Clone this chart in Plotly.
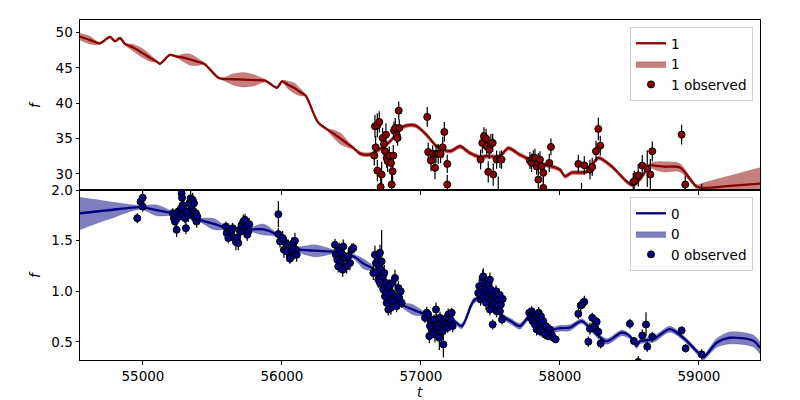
import plotly.graph_objects as go

# ---------------- model curves (knots) ----------------
t1_model = [54547, 54620, 54691, 54763, 54799, 54835, 54871, 54930, 54990, 55050, 55100, 55122,
            55194, 55245, 55290, 55340, 55390, 55440, 55540, 55576, 55650, 55720, 55800, 55880,
            55964, 56000, 56045, 56090, 56130, 56170, 56259, 56324, 56370, 56420, 56465, 56511,
            56561, 56633, 56777, 56873, 56957, 57041, 57113, 57209, 57281, 57352,
            57420, 57473, 57568, 57628, 57712, 57832, 57930, 58000, 58036, 58084, 58192, 58276,
            58372, 58516, 58575, 58647, 58700, 58750, 58863, 58983, 59040, 59200, 59439]
f1_model = [49.45, 48.95, 48.5, 49.4, 48.8, 49.25, 48.4, 47.9, 47.2, 46.45, 45.9, 45.6,
            46.85, 46.6, 46.45, 46.2, 45.9, 45.6, 43.65, 43.45, 43.4, 43.35, 43.28, 43.2,
            42.2, 43.1, 42.6, 42.15, 41.6, 41.1, 37.3, 36.3, 35.7, 35.0, 34.35, 33.7,
            32.9, 32.75, 34.6, 36.7, 36.85, 35.5, 33.9, 33.2, 33.9, 32.95,
            32.4, 32.5, 32.5, 33.65, 32.7, 31.6, 31.1, 30.6, 29.65, 30.15, 30.3, 32.25,
            31.05, 28.45, 29.2, 31.2, 31.1, 31.0, 30.9, 28.2, 28.0, 28.25, 28.6]
s1_model = [0.5, 0.55, 0.15, 0.15, 0.15, 0.15, 0.15, 0.5, 0.65, 0.5, 0.15, 0.15,
            0.15, 0.15, 0.55, 0.8, 0.55, 0.15, 0.15, 0.2, 0.8, 1.05, 0.8, 0.2,
            0.15, 0.15, 0.55, 0.75, 0.55, 0.15, 0.15, 0.15, 0.55, 0.8, 0.55, 0.2,
            0.3, 0.3, 0.3, 0.3, 0.3, 0.3, 0.3, 0.3, 0.3, 0.3,
            0.3, 0.3, 0.3, 0.3, 0.3, 0.3, 0.3, 0.3, 0.3, 0.3, 0.3, 0.3,
            0.3, 0.3, 0.3, 0.35, 0.65, 0.75, 0.6, 0.3, 0.8, 1.4, 2.3]

t0_model = [54547, 54750, 54985, 55100, 55220, 55320, 55410, 55510, 55600, 55700, 55780, 55870,
            55960, 56050, 56110, 56240, 56380, 56450, 56520, 56590, 56670, 56760, 56860, 56940,
            57020, 57100, 57232, 57293, 57376, 57424, 57500, 57592, 57650, 57712, 57784, 57860,
            57928, 58000, 58072, 58156, 58228, 58336, 58444, 58503, 58552, 58575, 58671, 58791,
            58887, 59007, 59031, 59127, 59223, 59391, 59439]
f0_model = [1.77, 1.80, 1.83, 1.80, 1.77, 1.74, 1.705, 1.665, 1.625, 1.60, 1.61, 1.61,
            1.56, 1.46, 1.415, 1.40, 1.39, 1.37, 1.34, 1.27, 1.21, 1.03, 0.87, 0.82,
            0.775, 0.71, 0.71, 0.655, 0.90, 0.935, 0.86, 0.75, 0.70, 0.655, 0.75, 0.68,
            0.62, 0.635, 0.64, 0.705, 0.62, 0.505, 0.59, 0.555, 0.46, 0.505, 0.525, 0.625,
            0.54, 0.375, 0.345, 0.49, 0.54, 0.51, 0.44]
s0_model = [0.16, 0.09, 0.02, 0.055, 0.02, 0.02, 0.02, 0.055, 0.02, 0.02, 0.025, 0.055,
            0.02, 0.02, 0.025, 0.06, 0.02, 0.02, 0.025, 0.05, 0.02, 0.02, 0.025, 0.05,
            0.025, 0.02, 0.02, 0.025, 0.03, 0.025, 0.02, 0.025, 0.03, 0.03, 0.025, 0.02,
            0.025, 0.03, 0.03, 0.025, 0.025, 0.03, 0.03, 0.025, 0.025, 0.025, 0.03, 0.03,
            0.025, 0.025, 0.025, 0.045, 0.06, 0.06, 0.06]

# ---------------- observations (t, f, error) ----------------
obs1 = [
    (56669, 36.73, 1.6), (56686, 36.87, 1.7), (56700, 37.35, 1.5), (56674, 33.75, 1.6), (56664, 32.58, 1.4),
    (56686, 30.45, 1.5), (56717, 29.89, 1.8), (56710, 28.14, 1.3), (56724, 35.08, 1.4), (56734, 34.23, 1.3),
    (56741, 33.19, 1.5), (56748, 35.55, 1.6), (56753, 32.25, 1.4), (56760, 31.78, 1.5), (56772, 32.58, 1.3),
    (56784, 31.54, 1.4), (56789, 28.47, 1.6), (56796, 30.35, 1.4), (56801, 32.58, 1.5), (56806, 36.12, 1.3),
    (56815, 36.50, 1.4), (56825, 35.55, 1.2), (56832, 35.08, 1.1), (56840, 38.95, 1.3), (56844, 36.50, 1.2),
    (57045, 38.06, 1.4), (57052, 33.10, 1.3), (57072, 31.87, 1.5), (57084, 32.82, 1.2), (57101, 30.84, 1.6),
    (57108, 32.82, 1.3), (57124, 32.82, 1.4), (57141, 32.82, 1.3), (57156, 33.75, 1.5), (57168, 35.93, 1.4),
    (57189, 31.40, 1.3), (57189, 28.47, 1.4),
    (57429, 32.01, 1.4), (57441, 34.38, 1.5), (57453, 35.31, 1.3), (57468, 34.99, 1.4), (57473, 33.89, 1.2),
    (57484, 30.27, 1.5), (57491, 33.43, 1.3), (57503, 34.23, 1.4), (57516, 34.38, 1.3), (57520, 29.89, 1.6),
    (57544, 32.01, 1.3), (57556, 27.20, 2.4), (57568, 32.01, 1.2), (57580, 32.01, 1.3),
    (57784, 31.87, 1.2), (57796, 31.54, 1.3), (57808, 32.25, 1.1), (57820, 32.25, 1.3), (57832, 31.06, 1.2),
    (57844, 31.54, 1.4), (57856, 32.01, 1.2), (57868, 31.06, 1.3), (57880, 30.13, 1.4), (57844, 29.18, 1.3),
    (57880, 28.00, 1.5), (57923, 31.54, 1.3), (57935, 33.81, 1.2),
    (58132, 31.40, 1.3), (58155, 26.90, 1.8), (58175, 31.20, 1.3), (58216, 30.59, 1.4), (58232, 30.98, 1.3),
    (58259, 33.19, 1.5), (58276, 36.36, 1.6), (58290, 33.99, 1.4),
    (58527, 28.80, 1.3), (58534, 28.94, 1.5), (58563, 29.79, 1.6), (58592, 31.16, 1.5), (58628, 30.74, 2.6),
    (58650, 29.89, 2.2), (58664, 33.19, 1.4), (58875, 35.55, 1.4), (58901, 28.47, 1.3), (59020, 26.80, 1.8),
]

obs0 = [
    (54959, 1.721, 0.05), (54983, 1.885, 0.06), (54998, 1.924, 0.07), (54998, 1.836, 0.05),
    (55214, 1.770, 0.05), (55223, 1.721, 0.06), (55230, 1.688, 0.05), (55242, 1.606, 0.07), (55254, 1.787, 0.06),
    (55261, 1.737, 0.05), (55271, 1.803, 0.06), (55278, 1.967, 0.07), (55281, 1.924, 0.06), (55286, 1.852, 0.05),
    (55290, 1.754, 0.06), (55302, 1.721, 0.05), (55309, 1.623, 0.06), (55326, 1.754, 0.07), (55333, 1.869, 0.06),
    (55343, 1.918, 0.08), (55350, 1.836, 0.06), (55358, 1.902, 0.07), (55362, 1.787, 0.06), (55367, 1.869, 0.05),
    (55374, 1.721, 0.06), (55381, 1.770, 0.05), (55386, 1.688, 0.06), (55391, 1.737, 0.05), (55278, 1.820, 0.06),
    (55314, 1.787, 0.05),
    (55597, 1.639, 0.05), (55602, 1.574, 0.06), (55614, 1.525, 0.05), (55631, 1.590, 0.06), (55645, 1.623, 0.05),
    (55657, 1.525, 0.07), (55669, 1.485, 0.08), (55678, 1.531, 0.06), (55693, 1.606, 0.05), (55710, 1.656, 0.06),
    (55722, 1.688, 0.07), (55734, 1.705, 0.06), (55741, 1.639, 0.05), (55750, 1.557, 0.06), (55758, 1.590, 0.05),
    (55765, 1.662, 0.06), (55703, 1.590, 0.05), (55686, 1.475, 0.07),
    (55974, 1.761, 0.13), (55974, 1.564, 0.06), (55986, 1.491, 0.06), (56005, 1.525, 0.07), (56014, 1.409, 0.08),
    (56029, 1.475, 0.06), (56045, 1.442, 0.07), (56057, 1.377, 0.06), (56070, 1.459, 0.07), (56081, 1.475, 0.06),
    (56086, 1.360, 0.05), (56093, 1.498, 0.08), (56101, 1.409, 0.06), (56106, 1.360, 0.07), (56034, 1.393, 0.06),
    (56057, 1.321, 0.05), (56077, 1.426, 0.06),
    (56381, 1.459, 0.06), (56388, 1.360, 0.07), (56398, 1.311, 0.06), (56412, 1.409, 0.07), (56422, 1.278, 0.08),
    (56429, 1.377, 0.06), (56441, 1.442, 0.07), (56453, 1.328, 0.06), (56465, 1.245, 0.07), (56477, 1.344, 0.06),
    (56489, 1.278, 0.07), (56501, 1.409, 0.06), (56513, 1.426, 0.05), (56405, 1.245, 0.06), (56437, 1.213, 0.07),
    (56657, 1.180, 0.07), (56669, 1.360, 0.09), (56676, 1.278, 0.08), (56681, 1.180, 0.07), (56688, 1.328, 0.06),
    (56693, 1.114, 0.08), (56700, 1.245, 0.07), (56705, 1.082, 0.06), (56705, 1.380, 0.08), (56712, 1.213, 0.07),
    (56717, 1.294, 0.31), (56724, 1.147, 0.07), (56729, 1.016, 0.06), (56736, 1.180, 0.08), (56741, 0.950, 0.06),
    (56748, 1.082, 0.07), (56753, 0.885, 0.06), (56757, 0.983, 0.07), (56765, 0.819, 0.06), (56772, 1.049, 0.07),
    (56777, 0.917, 0.06), (56784, 0.836, 0.07), (56789, 0.983, 0.06), (56796, 1.082, 0.07), (56801, 0.901, 0.06),
    (56813, 1.131, 0.08), (56820, 0.950, 0.07), (56825, 0.852, 0.06), (56837, 1.032, 0.07), (56844, 0.934, 0.06),
    (56854, 0.999, 0.06), (56861, 0.885, 0.05),
    (57029, 0.737, 0.05), (57041, 0.787, 0.06), (57052, 0.770, 0.05), (57060, 0.556, 0.07), (57070, 0.688, 0.06),
    (57077, 0.622, 0.07), (57089, 0.671, 0.06), (57101, 0.573, 0.08), (57108, 0.819, 0.07), (57113, 0.720, 0.06),
    (57124, 0.639, 0.07), (57132, 0.540, 0.12), (57137, 0.737, 0.06), (57149, 0.671, 0.07), (57156, 0.605, 0.06),
    (57161, 0.474, 0.13), (57168, 0.704, 0.06), (57173, 0.655, 0.07), (57185, 0.737, 0.06), (57192, 0.639, 0.05),
    (57196, 0.770, 0.06), (57204, 0.688, 0.07), (57214, 0.720, 0.06), (57221, 0.787, 0.05), (57228, 0.655, 0.06),
    (57065, 0.655, 0.06), (57094, 0.720, 0.05),
    (57412, 0.983, 0.06), (57419, 1.049, 0.07), (57429, 0.917, 0.06), (57437, 1.016, 0.07), (57444, 1.131, 0.08),
    (57448, 0.950, 0.06), (57453, 1.082, 0.07), (57460, 0.999, 0.06), (57468, 0.885, 0.07), (57473, 1.032, 0.06),
    (57480, 0.950, 0.07), (57487, 1.065, 0.06), (57491, 0.983, 0.07), (57496, 0.819, 0.06), (57503, 1.016, 0.07),
    (57508, 0.917, 0.06), (57516, 0.671, 0.05), (57520, 0.868, 0.07), (57525, 0.967, 0.06), (57532, 0.901, 0.07),
    (57540, 0.999, 0.06), (57544, 0.802, 0.06), (57552, 0.852, 0.07), (57556, 0.917, 0.06), (57563, 0.967, 0.06),
    (57568, 0.802, 0.06), (57575, 0.868, 0.06), (57583, 0.720, 0.05), (57588, 0.924, 0.06), (57496, 1.114, 0.07),
    (57448, 1.147, 0.08),
    (57779, 0.787, 0.05), (57789, 0.737, 0.06), (57796, 0.802, 0.05), (57803, 0.704, 0.06), (57813, 0.770, 0.05),
    (57820, 0.671, 0.06), (57827, 0.753, 0.05), (57832, 0.622, 0.06), (57839, 0.720, 0.05), (57847, 0.787, 0.06),
    (57856, 0.688, 0.05), (57863, 0.753, 0.06), (57870, 0.655, 0.05), (57880, 0.704, 0.06), (57887, 0.622, 0.05),
    (57899, 0.655, 0.05), (57909, 0.589, 0.05), (57916, 0.556, 0.04), (57928, 0.622, 0.05), (57940, 0.573, 0.04),
    (57952, 0.540, 0.04), (57969, 0.524, 0.03), (57856, 0.605, 0.05), (57892, 0.573, 0.05),
    (58132, 0.776, 0.05), (58149, 0.858, 0.06), (58163, 0.878, 0.05), (58175, 0.895, 0.06), (58204, 0.501, 0.05),
    (58216, 0.629, 0.06), (58232, 0.737, 0.05), (58247, 0.655, 0.06), (58264, 0.698, 0.05), (58276, 0.599, 0.06),
    (58293, 0.484, 0.05),
    (58503, 0.678, 0.05), (58532, 0.507, 0.04), (58563, 0.300, 0.06), (58592, 0.563, 0.06), (58619, 0.671, 0.12),
    (58628, 0.452, 0.05), (58664, 0.550, 0.05), (58875, 0.612, 0.04), (58904, 0.435, 0.04), (59019, 0.376, 0.05),
]

x_range = [54547, 59439]
y1_range = [27.7, 51.8]
y0_range = [0.32, 2.0]
x_ticks = [55000, 56000, 57000, 58000, 59000]
y1_ticks = [30, 35, 40, 45, 50]
y0_ticks = [0.5, 1.0, 1.5, 2.0]

FONT = "DejaVu Sans"
FS = 13.5

RED = "#8b0000"
RED_FILL = "rgba(139,0,0,0.5)"
NAVY = "#000080"
NAVY_FILL = "rgba(0,0,128,0.5)"

fig = go.Figure()


def add_series(name, t, m, s, obs, color, fill, xa, ya, legend):
    upper = [a + b for a, b in zip(m, s)]
    lower = [a - b for a, b in zip(m, s)]
    fig.add_trace(go.Scatter(x=t, y=upper, mode="lines", line=dict(width=0, shape="spline", smoothing=0.8),
                             showlegend=False, hoverinfo="skip", xaxis=xa, yaxis=ya))
    fig.add_trace(go.Scatter(x=t, y=lower, mode="lines", fill="tonexty", fillcolor=fill,
                             line=dict(width=0.5, color=fill, shape="spline", smoothing=0.8),
                             name=name, legend=legend, legendrank=2, xaxis=xa, yaxis=ya))
    fig.add_trace(go.Scatter(x=t, y=m, mode="lines", line=dict(color=color, width=2.3, shape="spline", smoothing=0.8),
                             name=name, legend=legend, legendrank=1, xaxis=xa, yaxis=ya))
    fig.add_trace(go.Scatter(x=[o[0] for o in obs], y=[o[1] for o in obs], mode="markers",
                             marker=dict(color=color, size=7, line=dict(color="black", width=1)),
                             error_y=dict(type="data", array=[o[2] for o in obs], color="black",
                                          thickness=1.2, width=0),
                             name=name + " observed", legend=legend, legendrank=3, xaxis=xa, yaxis=ya))


add_series("1", t1_model, f1_model, s1_model, obs1, RED, RED_FILL, "x", "y", "legend")
add_series("0", t0_model, f0_model, s0_model, obs0, NAVY, NAVY_FILL, "x2", "y2", "legend2")

axis_common = dict(showline=True, mirror=True, linecolor="black", linewidth=1, ticks="outside",
                   ticklen=3.5, tickwidth=1, tickcolor="black", showgrid=False, zeroline=False,
                   tickfont=dict(family=FONT, size=FS, color="black"))

# the page body adds an 8px offset; positions below are in figure pixels (page pixels minus 8)
W, H = 800, 400
legend_common = dict(font=dict(family=FONT, size=FS, color="black"), bgcolor="rgba(255,255,255,0.8)",
                     bordercolor="#d0d0d0", borderwidth=1, x=745 / W, xanchor="right", yanchor="top",
                     traceorder="normal", itemwidth=30, tracegroupgap=0)

title_font = dict(family=FONT, size=FS, color="black")
fig.update_layout(
    width=W, height=H, template="none",
    margin=dict(l=0, r=0, t=0, b=0),
    paper_bgcolor="white", plot_bgcolor="white",
    font=dict(family=FONT, size=FS, color="black"),
    xaxis=dict(domain=[72 / W, 752 / W], anchor="y", range=x_range, matches="x2", showticklabels=False,
               tickvals=x_ticks, **axis_common),
    yaxis=dict(domain=[1 - 182 / H, 1 - 12 / H], anchor="x", range=y1_range, tickvals=y1_ticks, **axis_common),
    xaxis2=dict(domain=[72 / W, 752 / W], anchor="y2", range=x_range, tickvals=x_ticks, tickformat="d",
                **axis_common),
    yaxis2=dict(domain=[1 - 352 / H, 1 - 182 / H], anchor="x2", range=y0_range, tickvals=y0_ticks,
                tickformat=".1f", **axis_common),
    legend=dict(y=1 - 19 / H, **legend_common),
    legend2=dict(y=1 - 189 / H, **legend_common),
    showlegend=True,
    annotations=[
        dict(text="<i>t</i>", xref="paper", yref="paper", x=412 / W, y=1 - 384 / H,
             xanchor="center", yanchor="middle", showarrow=False, font=title_font),
        dict(text="<i>f</i>", xref="paper", yref="paper", x=27 / W, y=1 - 97 / H, textangle=-90,
             xanchor="center", yanchor="middle", showarrow=False, font=title_font),
        dict(text="<i>f</i>", xref="paper", yref="paper", x=27 / W, y=1 - 267 / H, textangle=-90,
             xanchor="center", yanchor="middle", showarrow=False, font=title_font),
    ],
)

fig.write_html("out.html")
